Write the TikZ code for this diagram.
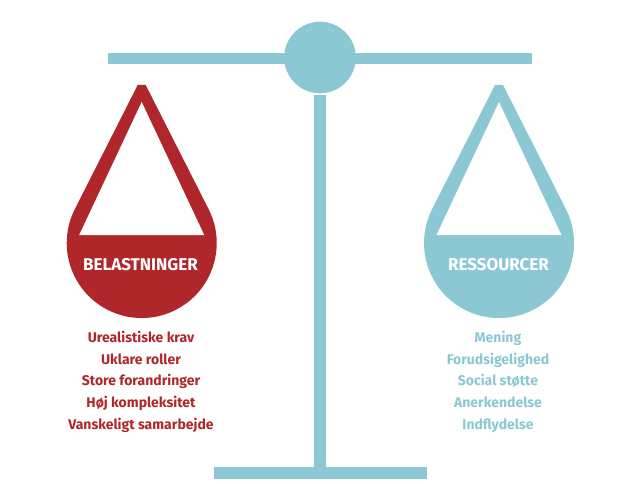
\documentclass[tikz,border=0pt]{standalone}
\usepackage{fontspec}
\newfontfamily\labfont{Fira Sans}
\definecolor{scred}{HTML}{B0272B}
\definecolor{scteal}{HTML}{8BC8D4}
\begin{document}
\begin{tikzpicture}[x=1pt,y=1pt,
  bar/.style={fill=scteal,draw=none},
  droplabel/.style={anchor=base,text=white,font=\labfont\bfseries\fontsize{17}{20}\selectfont,inner sep=0pt},
  itemtext/.style={anchor=base,font=\labfont\bfseries\fontsize{14}{17}\selectfont,inner sep=0pt}]
\useasboundingbox[fill=white] (0,0) rectangle (637,483);
% scale
\fill[bar] (108,418.6) rectangle (531.7,430.2);
\fill[bar] (314.3,16) rectangle (325.7,387.5);
\fill[bar] (214,3.8) rectangle (426.7,15.6);
\fill[bar] (320,425.5) circle[radius=35.8];
% left drop
\fill[scred] (137.7,398) -- (145.7,398) -- (141.7+66.9,240+33.9)
   arc[start angle=26.9,end angle=-206.9,radius=75] -- cycle;
\fill[white] (141.7,381) -- (204.2,248) -- (79.2,248) -- cycle;
% right drop
\fill[scteal] (495,398) -- (503,398) -- (499+66.9,240+33.9)
   arc[start angle=26.9,end angle=-206.9,radius=75] -- cycle;
\fill[white] (499,381) -- (561.5,248) -- (436.5,248) -- cycle;
% labels
\node[droplabel] (belast) at (140.5,213) {BELASTNINGER};
\node[droplabel] (ressour) at (498.5,213) {RESSOURCER};
\node[itemtext,text=scred] (l1) at (141,140.3) {Urealistiske krav};
\node[itemtext,text=scred] (l2) at (141,118.7) {Uklare roller};
\node[itemtext,text=scred] (l3) at (141,97.3) {Store forandringer};
\node[itemtext,text=scred] (l4) at (141,75.7) {Høj kompleksitet};
\node[itemtext,text=scred] (l5) at (141,53.7) {Vanskeligt samarbejde};
\node[itemtext,text=scteal] (r1) at (498,140.3) {Mening};
\node[itemtext,text=scteal] (r2) at (498,118.7) {Forudsigelighed};
\node[itemtext,text=scteal] (r3) at (498,97.3) {Social støtte};
\node[itemtext,text=scteal] (r4) at (498,75.7) {Anerkendelse};
\node[itemtext,text=scteal] (r5) at (498,53.7) {Indflydelse};
\end{tikzpicture}
\end{document}
